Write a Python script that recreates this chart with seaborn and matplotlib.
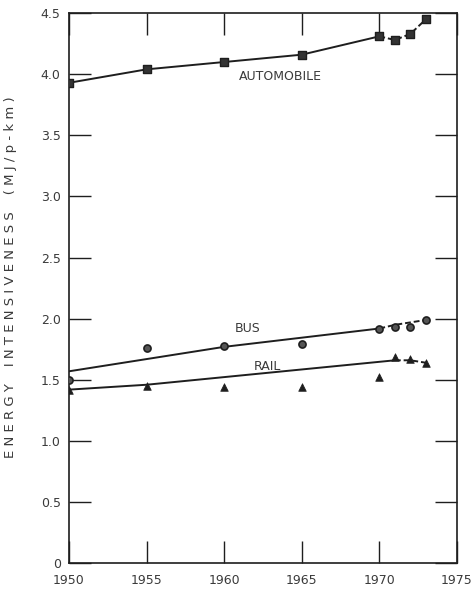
import pandas as pd
import matplotlib.pyplot as plt
import seaborn as sns

# data
years = [1950, 1955, 1960, 1965, 1970, 1971, 1972, 1973]
auto = [3.93, 4.04, 4.10, 4.16, 4.31, 4.28, 4.33, 4.45]
bus = [1.50, 1.76, 1.78, 1.79, 1.92, 1.93, 1.93, 1.99]
rail = [1.42, 1.45, 1.44, 1.44, 1.52, 1.69, 1.67, 1.64]

# fitted trend lines drawn through the points
bus_trend_years = [1950, 1960, 1970]
bus_trend = [1.57, 1.77, 1.92]
bus_tail_years = [1970, 1971, 1972, 1973]
bus_tail = [1.92, 1.95, 1.97, 1.99]
rail_trend_years = [1950, 1955, 1971]
rail_trend = [1.42, 1.46, 1.66]
rail_tail_years = [1971, 1972, 1973]
rail_tail = [1.66, 1.66, 1.64]

x_ticks = [1950, 1955, 1960, 1965, 1970, 1975]
y_ticks = [0, 0.5, 1.0, 1.5, 2.0, 2.5, 3.0, 3.5, 4.0, 4.5]
y_labels = ["0", "0.5", "1.0", "1.5", "2.0", "2.5", "3.0", "3.5", "4.0", "4.5"]

sns.set_style("ticks")
plt.rcParams['font.family'] = ['DejaVu Sans']

df = pd.DataFrame({"year": years, "auto": auto, "bus": bus, "rail": rail})
ink = "#1e1e1e"
txt = "#3a3a3a"

fig = plt.figure(figsize=(4.76, 5.96), dpi=100)
ax = fig.add_axes([0.145, 0.055, 0.815, 0.923])

# automobile: line through the points
sns.lineplot(x=years[:5], y=auto[:5], ax=ax, color=ink, lw=1.4)
sns.lineplot(x=years[4:], y=auto[4:], ax=ax, color=ink, lw=1.4, linestyle=(0, (3, 1.5)))
sns.scatterplot(data=df, x="year", y="auto", ax=ax, marker="s", s=26,
                color="#333333", edgecolor=ink, linewidth=1.0, zorder=3)

# bus
sns.lineplot(x=bus_trend_years, y=bus_trend, ax=ax, color=ink, lw=1.4)
sns.lineplot(x=bus_tail_years, y=bus_tail, ax=ax, color=ink, lw=1.4, linestyle=(0, (3, 1.5)))
sns.scatterplot(data=df, x="year", y="bus", ax=ax, marker="o", s=26,
                color="#555555", edgecolor=ink, linewidth=1.2, zorder=3)

# rail
sns.lineplot(x=rail_trend_years, y=rail_trend, ax=ax, color=ink, lw=1.4)
sns.lineplot(x=rail_tail_years, y=rail_tail, ax=ax, color=ink, lw=1.4, linestyle=(0, (3, 1.5)))
sns.scatterplot(data=df, x="year", y="rail", ax=ax, marker="^", s=30,
                color=ink, edgecolor=ink, linewidth=0.5, zorder=3)

ax.text(1963.6, 3.98, "AUTOMOBILE", fontsize=9, color=txt, ha="center", va="center")
ax.text(1961.5, 1.92, "BUS", fontsize=9, color=txt, ha="center", va="center")
ax.text(1962.8, 1.61, "RAIL", fontsize=9, color=txt, ha="center", va="center")

ax.set_xlim(1950, 1975)
ax.set_ylim(0, 4.5)
ax.set_xticks(x_ticks)
ax.set_xticklabels([str(t) for t in x_ticks], fontsize=9, color=txt)
ax.set_yticks(y_ticks)
ax.set_yticklabels(y_labels, fontsize=9, color=txt)
ax.tick_params(axis="both", direction="in", length=16, width=1.0, color=ink,
               top=True, right=True, pad=6)
ax.tick_params(axis="x", pad=8)
for sp in ax.spines.values():
    sp.set_visible(True)
    sp.set_color(ink)
    sp.set_linewidth(1.2)

ax.set_xlabel("")
ax.set_ylabel("E N E R G Y    I N T E N S I V E N E S S    ( M J / p - k m )",
              fontsize=9.5, color=txt, labelpad=3)
ax.yaxis.set_label_coords(-0.135, 0.52)

plt.savefig("out.png", dpi=100)
plt.close()
